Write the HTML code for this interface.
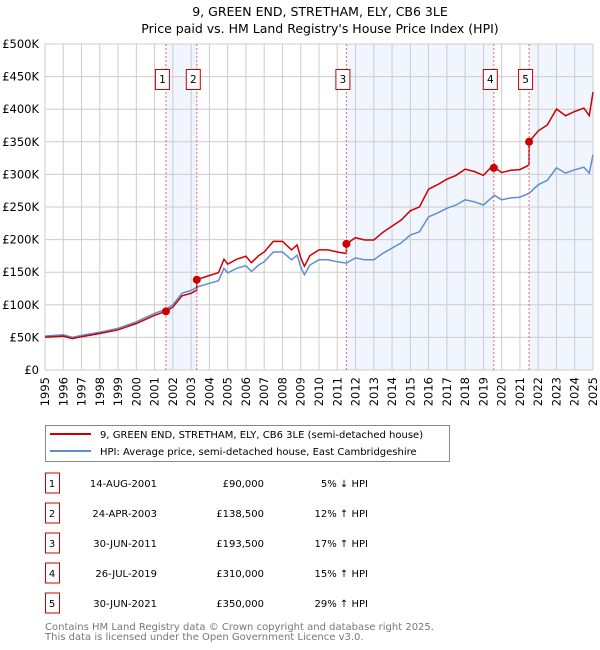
<!DOCTYPE html>
<html><head><meta charset="utf-8"><style>
body{margin:0;background:#fff;}
svg{display:block;font-family:"DejaVu Sans","Liberation Sans",sans-serif;}
</style></head><body>
<svg id="chart" width="600" height="650" viewBox="0 0 600 650">
<text x="320" y="16" text-anchor="middle" font-size="12.5" fill="#000">9, GREEN END, STRETHAM, ELY, CB6 3LE</text>
<text x="320" y="33" text-anchor="middle" font-size="12.5" fill="#000">Price paid vs. HM Land Registry's House Price Index (HPI)</text>
<g id="shade"></g><g id="grid"></g><g id="axes"></g><g id="series"></g><g id="markers"></g>
<g>
<rect x="45.5" y="425.5" width="404" height="36" fill="#fff" stroke="#888"/>
<line x1="50" y1="434" x2="91" y2="434" stroke="#cc0000" stroke-width="2"/>
<text x="100" y="438" font-size="10">9, GREEN END, STRETHAM, ELY, CB6 3LE (semi-detached house)</text>
<line x1="50" y1="451" x2="91" y2="451" stroke="#5b8fd4" stroke-width="2"/>
<text x="100" y="455" font-size="10">HPI: Average price, semi-detached house, East Cambridgeshire</text>
</g>
<g id="table" font-size="10"></g>
<text x="45" y="630" font-size="10" fill="#777">Contains HM Land Registry data © Crown copyright and database right 2025.</text>
<text x="45" y="640" font-size="10" fill="#777">This data is licensed under the Open Government Licence v3.0.</text>
</svg>
<script>
const hpiYears=[1995,1996,1996.5,1997,1998,1999,2000,2001,2001.6,2002,2002.5,2003,2003.3,2004,2004.5,2004.8,2005,2005.5,2006,2006.3,2006.7,2007,2007.5,2008,2008.5,2008.8,2009,2009.2,2009.5,2010,2010.5,2011,2011.5,2012,2012.5,2013,2013.5,2014,2014.5,2015,2015.5,2016,2016.5,2017,2017.5,2018,2018.5,2019,2019.6,2020,2020.5,2021,2021.5,2022,2022.5,2023,2023.5,2024,2024.5,2024.8,2025];
const hpiValues=[52,54,50,53,58,64,74,87,93,100,118,122,127,133,137,156,149,156,160,151,161,166,181,181,169,176,158,146,161,169,169,166,164,172,169,169,179,187,195,207,212,235,241,248,253,261,258,253,268,261,264,265,271,284,291,310,302,307,311,302,330];
const saleLabels=["1","2","3","4","5"];
const saleYears=[2001.62,2003.31,2011.5,2019.57,2021.5];
const salePrices=[90,138.5,193.5,310,350];
const saleDates=["14-AUG-2001","24-APR-2003","30-JUN-2011","26-JUL-2019","30-JUN-2021"];
const salePriceText=["£90,000","£138,500","£193,500","£310,000","£350,000"];
const saleHpiText=["5% ↓ HPI","12% ↑ HPI","17% ↑ HPI","15% ↑ HPI","29% ↑ HPI"];
const yTicks=[0,50,100,150,200,250,300,350,400,450,500];
const yTickLabels=["£0","£50K","£100K","£150K","£200K","£250K","£300K","£350K","£400K","£450K","£500K"];
const xTicks=[1995,1996,1997,1998,1999,2000,2001,2002,2003,2004,2005,2006,2007,2008,2009,2010,2011,2012,2013,2014,2015,2016,2017,2018,2019,2020,2021,2022,2023,2024,2025];

const NS="http://www.w3.org/2000/svg";
const X0=45,X1=593,Y0=370,Y1=44;
const xs=y=>X0+(y-1995)/30*(X1-X0);
const ys=v=>Y0-v/500*(Y0-Y1);
function mk(tag,attrs,parent){const e=document.createElementNS(NS,tag);for(const k in attrs)e.setAttribute(k,attrs[k]);parent.appendChild(e);return e;}
const g=id=>document.getElementById(id);
function hpiAt(t){for(let i=0;i<hpiYears.length-1;i++){if(t<=hpiYears[i+1]){const f=(t-hpiYears[i])/(hpiYears[i+1]-hpiYears[i]);return hpiValues[i]+f*(hpiValues[i+1]-hpiValues[i]);}}return hpiValues[hpiValues.length-1];}

const bands=[[saleYears[0],saleYears[1]],[saleYears[2],saleYears[3]],[saleYears[4],2025]];
bands.forEach(b=>{const r=mk('rect',{x:xs(b[0]),y:Y1,width:xs(b[1])-xs(b[0]),height:Y0-Y1,fill:'#eef3fc',opacity:0.8},g('shade'));

});
yTicks.forEach((v,i)=>{const l=mk('line',{x1:X0,x2:X1,y1:ys(v),y2:ys(v),stroke:'#ccc','stroke-width':1},g('grid'));


const t=mk('text',{x:39,y:ys(v)+4,'text-anchor':'end','font-size':11.5},g('axes'));t.textContent=yTickLabels[i];

});
xTicks.forEach(yr=>{const l=mk('line',{x1:xs(yr),x2:xs(yr),y1:Y1,y2:Y0,stroke:'#ccc','stroke-width':1},g('grid'));


const t=mk('text',{x:0,y:0,'font-size':11.5,'text-anchor':'end',transform:`translate(${xs(yr)+4},${Y0+7}) rotate(-90)`},g('axes'));t.textContent=yr;

});
mk('line',{x1:X0,x2:X0,y1:Y1,y2:Y0,stroke:'#ccc'},g('axes'));
const ratios=salePrices.map((p,i)=>p/hpiAt(saleYears[i]));
function ratioAt(t){let r=ratios[0];for(let i=0;i<saleYears.length;i++)if(t>=saleYears[i])r=ratios[i];return r;}
let bp='',rp='';
const pts=[...hpiYears];saleYears.forEach(s=>{pts.push(s-0.001,s);});pts.sort((a,b)=>a-b);
hpiYears.forEach((t,i)=>{bp+=(i?'L':'M')+xs(t).toFixed(1)+','+ys(hpiValues[i]).toFixed(1);});
pts.forEach((t,i)=>{rp+=(i?'L':'M')+xs(t).toFixed(1)+','+ys(hpiAt(t)*ratioAt(t)).toFixed(1);});
const hl=mk('path',{d:bp,fill:'none',stroke:'#5b8fd4','stroke-width':1.5},g('series'));


const rl=mk('path',{d:rp,fill:'none',stroke:'#cc0000','stroke-width':1.5},g('series'));


saleYears.forEach((s,i)=>{const x=xs(s);
const vl=mk('line',{x1:x,x2:x,y1:Y1,y2:Y0,stroke:'#e66','stroke-dasharray':'2,2','stroke-width':1},g('markers'));


const c=mk('circle',{cx:x,cy:ys(salePrices[i]),r:4,fill:'#cc0000'},g('markers'));


const b=mk('rect',{x:x-10.5,y:69.5,width:14,height:20,fill:'#fff',stroke:'#cc0000'},g('markers'));


const t=mk('text',{x:x-3.5,y:83,'text-anchor':'middle','font-size':10.5},g('markers'));t.textContent=saleLabels[i];


const ry=483+i*30;
const tb=mk('rect',{x:45.5,y:ry-10,width:14,height:20,fill:'#fff',stroke:'#cc0000'},g('table'));


const cells=[[52,saleLabels[i],'middle'],[157,saleDates[i],'end'],[264,salePriceText[i],'end'],[368,saleHpiText[i],'end']];
cells.forEach(cc=>{const tt=mk('text',{x:cc[0],y:ry+4,'text-anchor':cc[2]},g('table'));tt.textContent=cc[1];

});
});
</script>
</body></html>
